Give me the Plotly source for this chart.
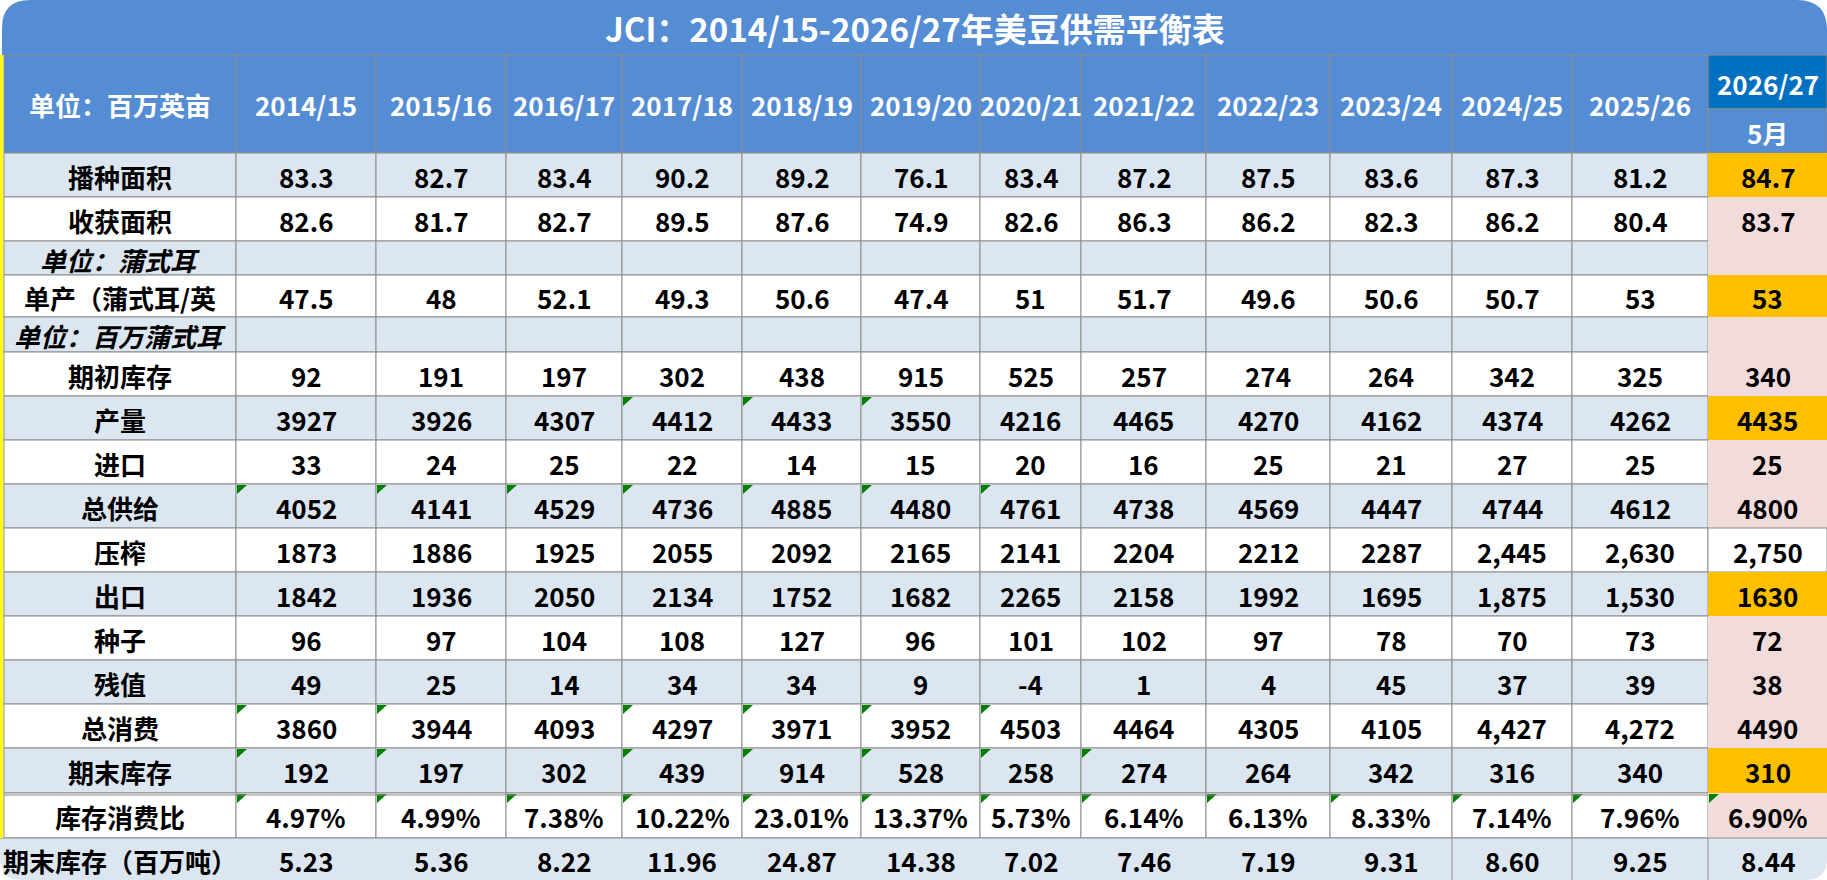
import plotly.graph_objects as go

title = "JCI：2014/15-2026/27年美豆供需平衡表"
unit_header = "单位：百万英亩"
seasons = ["2014/15", "2015/16", "2016/17", "2017/18", "2018/19", "2019/20", "2020/21",
           "2021/22", "2022/23", "2023/24", "2024/25", "2025/26", "2026/27"]
forecast_month = "5月"

row_labels = ["播种面积", "收获面积", "单位：蒲式耳", "单产（蒲式耳/英", "单位：百万蒲式耳",
              "期初库存", "产量", "进口", "总供给", "压榨", "出口", "种子", "残值",
              "总消费", "期末库存", "库存消费比", "期末库存（百万吨）"]

planted = [83.3, 82.7, 83.4, 90.2, 89.2, 76.1, 83.4, 87.2, 87.5, 83.6, 87.3, 81.2, 84.7]
harvested = [82.6, 81.7, 82.7, 89.5, 87.6, 74.9, 82.6, 86.3, 86.2, 82.3, 86.2, 80.4, 83.7]
yield_bu = [47.5, 48, 52.1, 49.3, 50.6, 47.4, 51, 51.7, 49.6, 50.6, 50.7, 53, 53]
beginning_stocks = [92, 191, 197, 302, 438, 915, 525, 257, 274, 264, 342, 325, 340]
production = [3927, 3926, 4307, 4412, 4433, 3550, 4216, 4465, 4270, 4162, 4374, 4262, 4435]
imports = [33, 24, 25, 22, 14, 15, 20, 16, 25, 21, 27, 25, 25]
total_supply = [4052, 4141, 4529, 4736, 4885, 4480, 4761, 4738, 4569, 4447, 4744, 4612, 4800]
crush = [1873, 1886, 1925, 2055, 2092, 2165, 2141, 2204, 2212, 2287, 2445, 2630, 2750]
exports = [1842, 1936, 2050, 2134, 1752, 1682, 2265, 2158, 1992, 1695, 1875, 1530, 1630]
seed = [96, 97, 104, 108, 127, 96, 101, 102, 97, 78, 70, 73, 72]
residual = [49, 25, 14, 34, 34, 9, -4, 1, 4, 45, 37, 39, 38]
total_use = [3860, 3944, 4093, 4297, 3971, 3952, 4503, 4464, 4305, 4105, 4427, 4272, 4490]
ending_stocks = [192, 197, 302, 439, 914, 528, 258, 274, 264, 342, 316, 340, 310]
stocks_to_use = [4.97, 4.99, 7.38, 10.22, 23.01, 13.37, 5.73, 6.14, 6.13, 8.33, 7.14, 7.96, 6.90]
ending_stocks_mt = [5.23, 5.36, 8.22, 11.96, 24.87, 14.38, 7.02, 7.46, 7.19, 9.31, 8.60, 9.25, 8.44]

# one entry per table row: (values, format); None = unit sub-heading row
rows = [(planted, "g"), (harvested, "g"), (None, None), (yield_bu, "g"), (None, None),
        (beginning_stocks, "d"), (production, "d"), (imports, "d"), (total_supply, "d"),
        (crush, "d"), (exports, "d"), (seed, "d"), (residual, "d"), (total_use, "d"),
        (ending_stocks, "d"), (stocks_to_use, "pct"), (ending_stocks_mt, "f2")]

# cells shown with thousands separator in the source sheet (row, season)
comma_cells = {(9, 10), (9, 11), (9, 12), (10, 10), (10, 11), (13, 10), (13, 11)}
# cells carrying the small green comment marker (row, season)
marked_cells = {(6, 3), (6, 4), (6, 5)}
marked_cells |= {(8, c) for c in range(7)}
marked_cells |= {(13, c) for c in [0, 1, 3, 4, 5, 6]}
marked_cells |= {(14, c) for c in [0, 1, 3, 4, 5, 6, 7]}
marked_cells |= {(15, c) for c in range(13)}

# ---- layout / style ----
W, H = 1827, 880
col_edges = [4, 236, 376, 506, 622, 742, 861, 980, 1081, 1206, 1330, 1452, 1572, 1708, 1827]
row_edges = [153, 197, 241, 275, 317, 352, 396, 440, 484, 528, 572, 616, 660, 704, 748, 793, 838, 880]
TITLE_BOTTOM, HEADER_SPLIT = 55, 109

BLUE = "#548DD4"
DARK_BLUE = "#0070C0"
LIGHT = "#DCE6F1"
PINK = "#F2DCDB"
ORANGE = "#FFC000"
GRID = "#8C8C8C"
FONT = "Noto Sans CJK SC"
FS = 26

last_col_fill = {0: ORANGE, 3: ORANGE, 6: ORANGE, 10: ORANGE, 14: ORANGE, 9: "white", 16: LIGHT}

shapes = []
annotations = []


def text(x, y, s, color="black", size=FS, italic=False):
    s = "<b>" + s + "</b>"
    if italic:
        s = "<i>" + s + "</i>"
    annotations.append(dict(x=x, y=y, xref="x", yref="y", text=s, showarrow=False,
                            xanchor="center", yanchor="middle",
                            font=dict(family=FONT, size=size, color=color)))


def rect(x0, y0, x1, y1, fill, line=True):
    shapes.append(dict(type="rect", xref="x", yref="y", x0=x0, y0=y0, x1=x1, y1=y1,
                       fillcolor=fill, layer="below",
                       line=dict(color=GRID, width=1 if line else 0)))


def fmt(v, kind, comma):
    if kind == "pct":
        return f"{v:.2f}%"
    if kind == "f2":
        return f"{v:.2f}"
    if kind == "g":
        return f"{v:g}"
    return f"{v:,}" if comma else f"{v}"


# title band with rounded top corners
shapes.append(dict(type="path", xref="x", yref="y", layer="below",
                   path=f"M 2,{TITLE_BOTTOM} L 2,28 Q 2,0 30,0 L {W-30},0 Q {W},0 {W},30 L {W},{TITLE_BOTTOM} Z",
                   fillcolor=BLUE, line=dict(width=0)))
text((2 + W) / 2, 28, title, color="white", size=33)

# header row
for c in range(len(col_edges) - 1):
    x0, x1 = col_edges[c], col_edges[c + 1]
    if c == len(col_edges) - 2:
        rect(x0, TITLE_BOTTOM, x1, HEADER_SPLIT, DARK_BLUE)
        rect(x0, HEADER_SPLIT, x1, row_edges[0], BLUE)
        text((x0 + x1) / 2, (TITLE_BOTTOM + HEADER_SPLIT) / 2 + 1, seasons[-1], color="white")
        text((x0 + x1) / 2, (HEADER_SPLIT + row_edges[0]) / 2 + 1, forecast_month, color="white")
    else:
        rect(x0, TITLE_BOTTOM, x1, row_edges[0], BLUE)
        label = unit_header if c == 0 else seasons[c - 1]
        text((x0 + x1) / 2, (TITLE_BOTTOM + row_edges[0]) / 2, label, color="white")

# body rows
n_rows = len(row_labels)
for r in range(n_rows):
    y0, y1 = row_edges[r], row_edges[r + 1]
    ym = (y0 + y1) / 2 + 1
    base = LIGHT if r % 2 == 0 else "white"
    vals, kind = rows[r]
    last = r == n_rows - 1
    if last:
        shapes.append(dict(type="path", xref="x", yref="y", layer="below",
                           path=f"M 0,{y0} L {W},{y0} L {W},{y1-22} Q {W},{y1} {W-22},{y1} "
                                f"L 22,{y1} Q 0,{y1} 0,{y1-22} Z",
                           fillcolor=LIGHT, line=dict(width=0)))
        shapes.append(dict(type="line", xref="x", yref="y", x0=0, x1=W, y0=y0, y1=y0,
                           line=dict(color=GRID, width=1)))
        for xe in col_edges[11:14]:
            shapes.append(dict(type="line", xref="x", yref="y", x0=xe, x1=xe, y0=y0, y1=y1,
                               line=dict(color=GRID, width=1)))
    for c in range(len(col_edges) - 1):
        x0, x1 = col_edges[c], col_edges[c + 1]
        if not last:
            if c == len(col_edges) - 2:
                fill = last_col_fill.get(r, PINK)
                rect(x0, y0, x1, y1, fill, line=(fill == "white"))
            else:
                rect(x0, y0, x1, y1, base)
        if c == 0:
            text((x0 + x1) / 2, ym, row_labels[r], italic=vals is None)
        elif vals is not None:
            s = c - 1
            text((x0 + x1) / 2, ym, fmt(vals[s], kind, (r, s) in comma_cells))
            if (r, s) in marked_cells:
                shapes.append(dict(type="path", xref="x", yref="y",
                                   path=f"M {x0+1},{y0+1} L {x0+11},{y0+1} L {x0+1},{y0+10} Z",
                                   fillcolor="#008000", line=dict(width=0)))

# double rule above stocks-to-use row
shapes.append(dict(type="line", xref="x", yref="y", x0=col_edges[0], x1=col_edges[-2],
                   y0=row_edges[15] + 2, y1=row_edges[15] + 2, line=dict(color=GRID, width=1)))
# yellow left edge
shapes.append(dict(type="rect", xref="x", yref="y", x0=0, x1=3, y0=TITLE_BOTTOM, y1=row_edges[-2],
                   fillcolor="#FFFF00", line=dict(width=0)))

fig = go.Figure()
fig.update_layout(
    width=W, height=H, margin=dict(l=0, r=0, t=0, b=0),
    paper_bgcolor="white", plot_bgcolor="white",
    xaxis=dict(range=[0, W], visible=False, fixedrange=True),
    yaxis=dict(range=[H, 0], visible=False, fixedrange=True),
    shapes=shapes, annotations=annotations, showlegend=False,
)
fig.write_html("out.html", config={"displayModeBar": False},
               post_script="document.body.style.margin='0';document.body.style.overflow='hidden';")
